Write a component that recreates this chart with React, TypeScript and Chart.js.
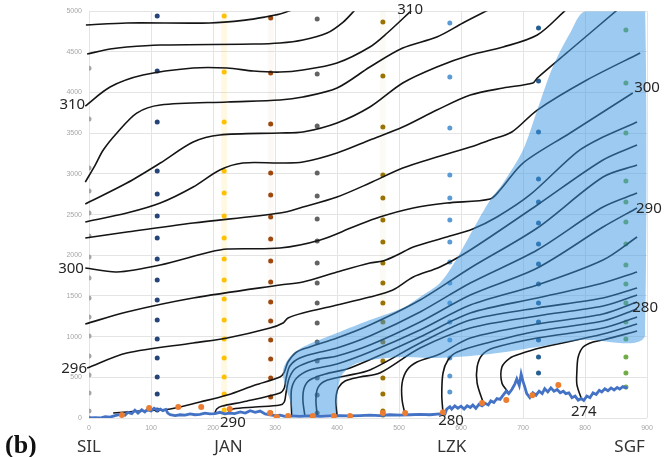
import React, { useEffect, useRef } from "react";
import { Chart, registerables } from "chart.js";

Chart.register(...registerables);

type P = [number, number];

// ---- axes ----
const X_MIN = 0, X_MAX = 900, X_STEP = 100;
const Y_MIN = 0, Y_MAX = 5000, Y_STEP = 500;

// ---- sounding columns (distance km, heights m) ----
const grayX = 0;
const grayY = [0, 86, 307, 528, 762, 1008, 1241, 1475, 1721, 1979, 2237, 2520, 2790, 3073, 3675, 4300];
const navyX = 110;
const navyY = [98, 295, 504, 737, 971, 1204, 1450, 1696, 1954, 2212, 2483, 2753, 3036, 3638, 4265, 4940];
const yellowX = 218;
const yellowY = [98, 295, 504, 737, 971, 1204, 1462, 1696, 1954, 2212, 2483, 2765, 3036, 3638, 4252, 4940];
const brownX = 293;
const brownY = [61, 258, 492, 725, 959, 1192, 1426, 1671, 1930, 2200, 2470, 2741, 3011, 3613, 4240, 4916];
const dkGrayX = 368;
const dkGrayY = [61, 283, 492, 700, 934, 1168, 1413, 1659, 1905, 2175, 2446, 2728, 3011, 3589, 4228, 4904];
const goldX = 474;
const goldY = [37, 86, 295, 492, 700, 934, 1180, 1413, 1659, 1905, 2163, 2433, 2704, 2986, 3576, 4203, 4867];
const ltBlueX = 582;
const ltBlueY = [320, 516, 737, 959, 1180, 1413, 1659, 1917, 2163, 2433, 2704, 2986, 3564, 4191, 4855];
const blueX = 725;
const blueY = [553, 750, 959, 1180, 1413, 1647, 1893, 2138, 2397, 2655, 2937, 3515, 4142, 4793];
const greenX = 866;
const greenY = [381, 553, 750, 971, 1180, 1413, 1647, 1880, 2138, 2409, 2655, 2913, 3503, 4117, 4769];

// surface observations
const surfaceObs: P[] = [[53,37],[97,123],[144,135],[181,135],[227,111],[292,61],[303,12],[321,25],[361,25],[395,25],[421,25],[474,61],[510,61],[571,70],[634,184],[673,221],[715,280],[757,406]];

// terrain / boundary trace
const terrain: P[] = [
  [0,0],[10,5],[18,0],[26,15],[34,10],[42,30],[50,45],[58,35],[63,70],[69,55],[74,95],[79,60],[85,100],[90,75],[95,110],[100,85],[105,120],[110,95],[115,110],[119,90],[124,105],[127,60],[131,40],[139,30],[147,40],[155,35],[163,50],[171,40],[179,45],[187,60],[195,50],[203,55],[211,70],[219,50],[227,60],[235,55],[244,75],[252,60],[260,90],[268,70],[276,85],[284,50],[292,40],[300,30],[308,35],[316,20],[324,25],[340,20],[356,25],[373,20],[389,25],[405,30],[421,25],[437,30],[453,35],[469,30],[485,40],[502,35],[518,40],[534,45],[550,40],[566,50],[574,45],[577,110],[582,140],[585,110],[590,150],[595,120],[600,145],[605,110],[610,150],[615,130],[619,160],[624,120],[629,170],[634,150],[639,180],[644,160],[648,210],[653,190],[658,240],[663,230],[668,280],[673,330],[677,300],[682,350],[687,420],[690,480],[694,400],[697,540],[700,450],[703,380],[706,300],[711,250],[716,310],[721,280],[726,330],[731,300],[735,360],[740,320],[745,370],[750,330],[755,350],[760,310],[765,330],[769,300],[774,310],[779,250],[784,270],[789,220],[794,240],[798,215],[803,270],[808,250],[813,310],[818,290],[823,340],[827,320],[832,360],[837,335],[842,370],[847,345],[852,375],[856,355],[861,385],[866,370],[868,385]
];

// shaded region outline
const shadedRegion: P[] = [[329,20],[324,221],[316,406],[313,590],[324,750],[345,873],[400,1045],[453,1204],[506,1352],[534,1487],[566,1659],[590,1917],[619,2311],[647,2679],[668,2888],[700,3294],[723,3785],[748,4314],[776,4732],[800,5000],[897,5000],[897,1020],[792,959],[723,873],[647,787],[561,737],[506,750],[453,713],[426,651],[408,528],[401,344],[399,160],[399,20]];

// ---- isentropes (K) ----
const th314: P[] = [[-5,4830],[61,4855],[195,4855],[252,4890],[284,4928],[308,4965],[327,5015]];
const th312: P[] = [[-3,4474],[34,4535],[61,4560],[115,4584],[265,4596],[308,4609],[345,4646],[384,4732],[410,4867],[429,5015]];
const th310: P[] = [[-6,3834],[34,4068],[87,4215],[168,4301],[223,4301],[265,4265],[308,4252],[345,4277],[400,4363],[453,4560],[481,4732],[521,5015]];
const th308: P[] = [[-6,2900],[10,3109],[23,3294],[45,3503],[77,3748],[115,3847],[223,3884],[308,3908],[345,3945],[400,4056],[453,4314],[506,4547],[561,4682],[603,4855],[644,5015]];
const th306: P[] = [[-6,2630],[61,2888],[115,3134],[168,3392],[211,3478],[308,3503],[345,3515],[400,3626],[453,3822],[506,4117],[561,4314],[615,4461],[668,4560],[723,4707],[769,5015]];
const th304: P[] = [[-6,2409],[61,2519],[115,2642],[168,2839],[211,3048],[248,3134],[308,3134],[345,3146],[400,3257],[453,3417],[506,3576],[561,3785],[615,3970],[668,4056],[716,4117],[723,4179],[776,4523],[852,5015]];
const th302: P[] = [[-6,2212],[61,2286],[168,2397],[308,2519],[345,2593],[400,2716],[453,2888],[506,3073],[561,3208],[615,3331],[647,3417],[682,3515],[723,3785],[803,4154],[889,4486]];
const th300: P[] = [[-6,1844],[45,1794],[115,1880],[195,2040],[223,2077],[308,2089],[373,2188],[426,2347],[469,2470],[523,2581],[577,2642],[647,2692],[663,2802],[700,3134],[776,3503],[877,3994]];
const th298: P[] = [[-6,1155],[61,1303],[168,1475],[308,1635],[345,1671],[400,1794],[453,1905],[474,1930],[497,2003],[523,2102],[577,2225],[619,2323],[658,2470],[711,2741],[787,3269],[829,3453],[884,3638]];
const th296: P[] = [[-3,615],[61,799],[168,922],[223,983],[292,1106],[313,1168],[321,1229],[345,1290],[400,1389],[453,1487],[490,1573],[523,1733],[566,1856],[615,2065],[723,2618],[829,3171],[884,3355]];
const th294: P[] = [[39,61],[82,86],[131,111],[179,197],[223,283],[268,406],[308,504],[315,565],[321,688],[335,811],[356,873],[400,983],[453,1143],[534,1450],[615,1844],[723,2335],[829,2962],[884,3109]];
const th292: P[] = [[203,61],[206,111],[215,147],[248,197],[308,307],[315,369],[318,492],[324,639],[340,737],[373,811],[400,860],[453,1008],[534,1303],[615,1659],[723,2065],[829,2593],[884,2765]];
const th290: P[] = [[224,61],[232,111],[268,135],[308,160],[315,197],[318,320],[323,492],[334,615],[365,713],[400,762],[453,897],[534,1180],[615,1512],[723,1844],[829,2347],[884,2581]];
const th288: P[] = [[327,37],[326,221],[327,369],[335,492],[356,590],[400,664],[453,811],[534,1082],[615,1389],[723,1635],[829,1942],[884,2225]];
const th286: P[] = [[348,37],[345,221],[347,369],[356,467],[381,541],[421,615],[534,996],[615,1290],[723,1475],[829,1659],[884,1794]];
const th284: P[] = [[368,37],[366,221],[369,369],[381,455],[413,516],[453,590],[534,922],[615,1204],[723,1352],[829,1475],[884,1598]];
const th283: P[] = [[400,37],[398,221],[402,369],[413,455],[437,504],[469,553],[534,860],[615,1106],[723,1254],[829,1376],[884,1512]];
const th282: P[] = [[510,37],[505,221],[505,430],[513,590],[529,688],[566,787],[615,983],[723,1155],[829,1278],[884,1426]];
const th280: P[] = [[571,61],[569,283],[571,553],[579,713],[594,811],[642,922],[723,1069],[829,1192],[884,1340]];
const th278: P[] = [[636,184],[626,430],[626,627],[634,774],[652,860],[723,983],[829,1106],[884,1241]];
const th276: P[] = [[676,320],[666,430],[666,627],[679,737],[695,787],[727,860],[829,1032],[884,1155]];
const th274: P[] = [[795,221],[787,406],[787,590],[789,750],[797,873],[813,934],[829,959],[884,1069]];

const isentropes: P[][] = [th314, th312, th310, th308, th306, th304, th302, th300, th298, th296, th294, th292, th290, th288, th286, th284, th283, th282, th280, th278, th276, th274];

// ---- text labels ----
const contourLabels: { text: string; x: number; y: number }[] = [
  { text: "310", x: -27, y: 3847 },
  { text: "300", x: -29, y: 1831 },
  { text: "296", x: -24, y: 602 },
  { text: "290", x: 232, y: -61 },
  { text: "310", x: 518, y: 5014 },
  { text: "300", x: 900, y: 4056 },
  { text: "290", x: 903, y: 2569 },
  { text: "280", x: 897, y: 1352 },
  { text: "280", x: 584, y: -37 },
  { text: "274", x: 798, y: 74 },
];
const stationNames = ["SIL", "JAN", "LZK", "SGF"];
const stationX = [0, 225, 585, 872];
const panelLabel = "(b)";

const xy = (pts: P[]) => pts.map(([x, y]) => ({ x, y }));

const lineDs = (pts: P[]) => ({
  data: xy(pts),
  showLine: true,
  borderColor: "#151515",
  borderWidth: 1.6,
  pointRadius: 0,
  tension: 0.3,
  fill: false,
  clip: { left: 8, top: 0, right: 8, bottom: 0 },
  order: 2,
});

const dotDs = (x: number, ys: number[], color: string) => ({
  data: ys.map((y) => ({ x, y })),
  showLine: false,
  backgroundColor: color,
  borderWidth: 0,
  pointRadius: 2.5,
  order: 3,
});

const bandDs = (x: number, color: string) => ({
  data: [{ x, y: Y_MIN }, { x, y: Y_MAX }],
  showLine: true,
  borderColor: color,
  borderWidth: 6,
  pointRadius: 0,
  order: 4,
});

const labelPlugin = {
  id: "textLabels",
  afterDraw(chart: any) {
    const ctx = chart.ctx;
    const xs = chart.scales.x;
    const ys = chart.scales.y;
    ctx.save();
    ctx.fillStyle = "#262626";
    ctx.textAlign = "center";
    ctx.textBaseline = "middle";
    ctx.font = "15px 'Noto Sans', 'Open Sans', sans-serif";
    for (const l of contourLabels) {
      ctx.fillText(l.text, xs.getPixelForValue(l.x), ys.getPixelForValue(l.y));
    }
    ctx.font = "17px 'Noto Sans', 'Open Sans', sans-serif";
    ctx.fillStyle = "#333333";
    const yb = chart.chartArea.bottom + 29;
    stationNames.forEach((n, i) => {
      ctx.fillText(n, xs.getPixelForValue(stationX[i]), yb);
    });
    ctx.font = "bold 26px 'Liberation Serif', 'DejaVu Serif', serif";
    ctx.fillStyle = "#111111";
    ctx.textAlign = "left";
    ctx.textBaseline = "alphabetic";
    ctx.fillText(panelLabel, 5, 453);
    ctx.restore();
  },
};

export default function App() {
  const ref = useRef<HTMLCanvasElement>(null);
  useEffect(() => {
    const canvas = ref.current;
    if (!canvas) return;
    const datasets: any[] = [
      bandDs(yellowX, "rgba(255,192,0,0.11)"),
      bandDs(brownX, "rgba(158,72,14,0.035)"),
      bandDs(goldX, "rgba(153,115,0,0.04)"),
      dotDs(grayX, grayY, "#A5A5A5"),
      dotDs(navyX, navyY, "#264478"),
      dotDs(yellowX, yellowY, "#FFC000"),
      dotDs(brownX, brownY, "#9E480E"),
      dotDs(dkGrayX, dkGrayY, "#636363"),
      dotDs(goldX, goldY, "#997300"),
      dotDs(ltBlueX, ltBlueY, "#5B9BD5"),
      dotDs(blueX, blueY, "#255E91"),
      dotDs(greenX, greenY, "#70AD47"),
      ...isentropes.map(lineDs),
      {
        data: xy(shadedRegion),
        showLine: true,
        fill: "shape",
        backgroundColor: "rgba(60,150,225,0.5)",
        borderColor: "rgba(0,0,0,0)",
        borderWidth: 0,
        pointRadius: 0,
        tension: 0.3,
        order: 1,
      },
      {
        data: xy(terrain),
        showLine: true,
        borderColor: "#4472C4",
        borderWidth: 2.8,
        pointRadius: 0,
        tension: 0,
        order: 0,
      },
      {
        data: xy(surfaceObs),
        showLine: false,
        backgroundColor: "#ED7D31",
        borderWidth: 0,
        pointRadius: 3,
        order: -1,
      },
    ];
    const tickFont = { size: 7, family: "'Liberation Sans', sans-serif" };
    const plain = (v: any) => String(v);
    const chart = new Chart(canvas, {
      type: "scatter",
      data: { datasets },
      options: {
        responsive: false,
        animation: false,
        devicePixelRatio: 1,
        events: [],
        layout: { padding: { left: 0, right: 18, top: 11, bottom: 0 } },
        plugins: { legend: { display: false }, tooltip: { enabled: false } },
        scales: {
          x: {
            type: "linear",
            min: X_MIN,
            max: X_MAX,
            ticks: { stepSize: X_STEP, color: "#a6a6a6", font: tickFont, padding: 6, maxRotation: 0, callback: plain },
            grid: { color: "#e4e4e4", drawTicks: false },
            border: { display: false },
            afterFit: (s: any) => { s.height = 39; },
          },
          y: {
            type: "linear",
            min: Y_MIN,
            max: Y_MAX,
            ticks: { stepSize: Y_STEP, color: "#a6a6a6", font: tickFont, padding: 7, callback: plain },
            grid: { color: "#e4e4e4", drawTicks: false },
            border: { display: false },
            afterFit: (s: any) => { s.width = 89; },
          },
        },
      } as any,
      plugins: [labelPlugin],
    } as any);
    return () => chart.destroy();
  }, []);
  return (
    <div style={{ position: "fixed", left: 0, top: 0, width: 665, height: 457, background: "#ffffff" }}>
      <canvas ref={ref} width={665} height={457} style={{ display: "block", width: 665, height: 457 }} />
    </div>
  );
}
